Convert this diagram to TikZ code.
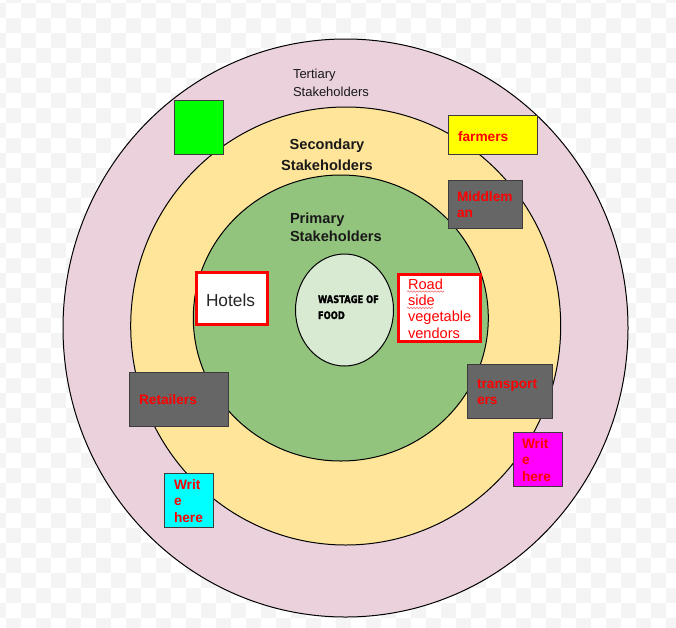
\documentclass[tikz,border=0pt]{standalone}
\usepackage{fontspec}
\setmainfont{Liberation Sans}
\newfontfamily\posterfont{DejaVu Sans}[FakeStretch=0.8, BoldFeatures={FakeBold=1.6}]
\usetikzlibrary{shapes.geometric,decorations.pathmorphing}

\definecolor{ringpink}{HTML}{EAD1DC}
\definecolor{ringyellow}{HTML}{FFE599}
\definecolor{ringgreen}{HTML}{93C47D}
\definecolor{corefill}{HTML}{D9EAD3}
\definecolor{tilegrey}{HTML}{F4F4F4}
\definecolor{boxgrey}{HTML}{666666}
\definecolor{edgegrey}{HTML}{3C3C3C}
\definecolor{squiggle}{HTML}{F07070}
\definecolor{puregreen}{HTML}{00FF00}
\definecolor{pureyellow}{HTML}{FFFF00}
\definecolor{purecyan}{HTML}{00FFFF}
\definecolor{puremagenta}{HTML}{FF00FF}
\definecolor{purered}{HTML}{FF0000}

% multi-line blocks whose baseline is that of the first line
\newcommand\leftlines[1]{\vtop{\halign{##\hfil\cr#1\crcr}}}
\newcommand\midlines[1]{\vtop{\halign{\hfil##\hfil\cr#1\crcr}}}

\tikzset{
  ring/.style={ellipse, draw=black, line width=1pt, inner sep=0pt, outer sep=0pt},
  tagbox/.style={rectangle, draw=edgegrey, line width=0.9pt, inner sep=0pt,
                 outer sep=0pt, anchor=north west},
  redbox/.style={rectangle, draw=purered, fill=white, line width=3pt, inner sep=0pt,
                 outer sep=0pt, anchor=north west},
  lbl/.style={inner sep=0pt, outer sep=0pt, anchor=base west},
  tagtext/.style={lbl, text=purered, font=\fontsize{13.7}{16.5}\selectfont\bfseries},
  ringtitle/.style={inner sep=0pt, outer sep=0pt, text=black!90,
                    font=\fontsize{14.6}{18}\selectfont\bfseries},
  spell/.style={draw=squiggle, line width=0.6pt,
                decorate, decoration={snake, segment length=3pt, amplitude=0.7pt}}
}

\begin{document}
\begin{tikzpicture}[x=1pt, y=-1pt]
  \useasboundingbox (0,0) rectangle (676,627);

  % transparent-canvas checker pattern
  \begin{scope}
    \clip (0,0) rectangle (676,627);
    \fill[white] (0,0) rectangle (676,627);
    \foreach \i in {0,...,45} {
      \foreach \j in {0,...,42} {
        \pgfmathtruncatemacro\tileodd{mod(\i+\j,2)}
        \ifnum\tileodd=1
          \fill[tilegrey] (-9+15*\i,-11.7+15*\j) rectangle ++(15,15);
        \fi
      }
    }
  \end{scope}

  % stakeholder rings
  \node[ring, fill=ringpink,   minimum width=565pt, minimum height=578pt] (tertiary)  at (345.5,328) {};
  \node[ring, fill=ringyellow, minimum width=430pt, minimum height=438pt] (secondary) at (345.7,326) {};
  \node[ring, fill=ringgreen,  minimum width=295pt, minimum height=286pt] (primary)   at (340.8,318) {};
  \node[ring, fill=corefill,   minimum width=98pt,  minimum height=112pt] (core)      at (344.5,310) {};

  % ring titles
  \node[lbl, text=black!90, font=\fontsize{13}{18}\selectfont] (ttitle) at (293,78)
    {\leftlines{Tertiary\cr Stakeholders}};
  \node[ringtitle, anchor=base, font=\fontsize{14.6}{20.5}\selectfont\bfseries] (stitle) at (327,149.5)
    {\midlines{Secondary\cr Stakeholders}};
  \node[ringtitle, anchor=base west] (ptitle) at (290,223)
    {\leftlines{Primary\cr Stakeholders}};
  \node[lbl, font=\posterfont\fontsize{10.4}{16}\selectfont\bfseries] (coretext) at (318,303)
    {\leftlines{WASTAGE OF\cr FOOD}};

  % stakeholder boxes
  \node[tagbox, fill=puregreen, minimum width=49pt, minimum height=54pt] (greenbox) at (174,100) {};

  \node[tagbox, fill=pureyellow, minimum width=89pt, minimum height=39pt] (farmers) at (448,115) {};
  \node[tagtext] (farmerstext) at (458,141) {farmers};

  \node[tagbox, fill=boxgrey, minimum width=74pt, minimum height=48pt] (middleman) at (448,180) {};
  \node[tagtext] (middlemantext) at (457,201) {\leftlines{Middlem\cr an}};

  \node[redbox, minimum width=71pt, minimum height=52pt] (hotels) at (196.5,272.5) {};
  \node[lbl, text=black!85, font=\fontsize{17.3}{20}\selectfont] (hotelstext) at (206,306) {Hotels};

  \node[redbox, minimum width=82pt, minimum height=67pt] (vendors) at (398.5,274.5) {};
  \node[lbl, text=purered, font=\fontsize{14.6}{16.4}\selectfont] (vendorstext) at (408,289)
    {\leftlines{Road\cr side\cr vegetable\cr vendors}};
  \coordinate (roadL) at (407,291.5);  \coordinate (roadR) at (444,291.5);
  \coordinate (sideL) at (407,308);    \coordinate (sideR) at (433,308);
  \draw[spell] (roadL) -- (roadR);
  \draw[spell] (sideL) -- (sideR);

  \node[tagbox, fill=boxgrey, minimum width=99pt, minimum height=54pt] (retailers) at (129,372) {};
  \node[tagtext] (retailerstext) at (139,404) {Retailers};

  \node[tagbox, fill=boxgrey, minimum width=85pt, minimum height=54pt] (transporters) at (467,364) {};
  \node[tagtext] (transporterstext) at (477,388) {\leftlines{transport\cr ers}};

  \node[tagbox, fill=purecyan, minimum width=49pt, minimum height=54pt] (cyanbox) at (164,473) {};
  \node[tagtext] (cyantext) at (174,489) {\leftlines{Writ\cr e\cr here}};

  \node[tagbox, fill=puremagenta, minimum width=49pt, minimum height=54pt] (magentabox) at (513,432) {};
  \node[tagtext] (magentatext) at (522,448) {\leftlines{Writ\cr e\cr here}};
\end{tikzpicture}
\end{document}
